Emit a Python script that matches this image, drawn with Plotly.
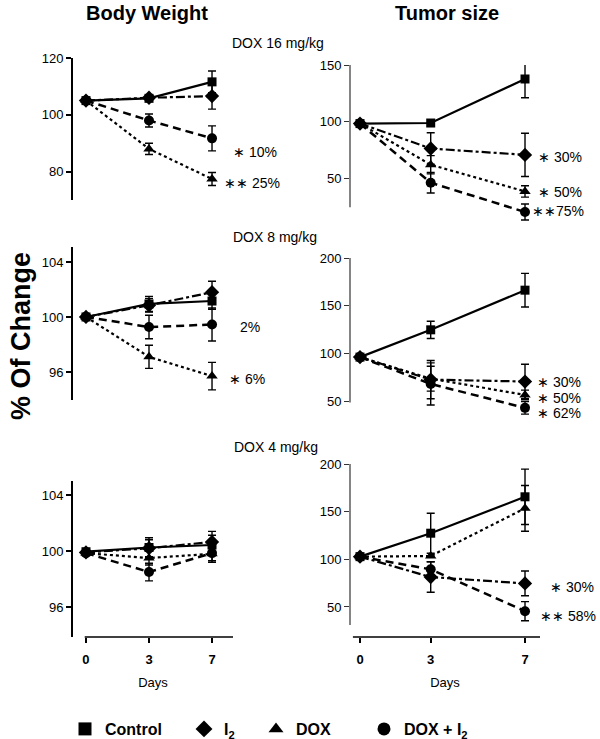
import plotly.graph_objects as go

W, H = 600, 739

# ---------------- data ----------------
days = [0, 3, 7]
day_labels = ["0", "3", "7"]
groups = ["Control", "I2", "DOX", "DOX+I2"]

# Body weight, DOX 16 mg/kg
bw16_control = [105.0, 105.8, 111.6]
bw16_control_err = [0, 0.5, 3.8]
bw16_i2 = [105.0, 106.0, 106.6]
bw16_i2_err = [0, 0, 4.6]
bw16_dox = [105.0, 88.0, 77.4]
bw16_dox_err = [0, 2.0, 2.3]
bw16_doxi2 = [105.0, 98.0, 91.7]
bw16_doxi2_err = [0, 2.3, 4.4]

# Tumor size, DOX 16 mg/kg
ts16_control = [98.5, 99.0, 137.7]
ts16_control_err = [0, 0, 16.5]
ts16_i2 = [98.5, 76.6, 71.0]
ts16_i2_err = [0, 13.8, 19.0]
ts16_dox = [98.5, 62.3, 38.9]
ts16_dox_err = [0, 8.0, 5.0]
ts16_doxi2 = [98.5, 46.5, 20.8]
ts16_doxi2_err = [0, 9.0, 7.0]

# Body weight, DOX 8 mg/kg
bw8_control = [100.0, 100.95, 101.16]
bw8_control_err = [0, 0.55, 0.6]
bw8_i2 = [100.0, 100.85, 101.8]
bw8_i2_err = [0, 0.5, 0.8]
bw8_dox = [100.0, 97.1, 95.7]
bw8_dox_err = [0, 0.84, 1.0]
bw8_doxi2 = [100.0, 99.27, 99.45]
bw8_doxi2_err = [0, 0.85, 1.2]

# Tumor size, DOX 8 mg/kg
ts8_control = [96.5, 125.0, 166.4]
ts8_control_err = [0, 9.0, 17.5]
ts8_i2 = [96.5, 73.0, 71.0]
ts8_i2_err = [0, 20.0, 18.0]
ts8_dox = [96.5, 74.0, 57.0]
ts8_dox_err = [0, 13.0, 5.0]
ts8_doxi2 = [96.5, 68.5, 43.5]
ts8_doxi2_err = [0, 22.0, 6.5]

# Body weight, DOX 4 mg/kg
bw4_control = [99.95, 100.25, 100.43]
bw4_control_err = [0, 0.7, 0.7]
bw4_i2 = [99.9, 100.2, 100.65]
bw4_i2_err = [0, 0.6, 0.75]
bw4_dox = [99.85, 99.5, 99.8]
bw4_dox_err = [0, 0.5, 0.5]
bw4_doxi2 = [99.85, 98.5, 99.85]
bw4_doxi2_err = [0, 0.63, 0.65]

# Tumor size, DOX 4 mg/kg
ts4_control = [102.8, 127.4, 165.6]
ts4_control_err = [0, 21.0, 29.0]
ts4_i2 = [102.8, 81.4, 74.7]
ts4_i2_err = [0, 16.0, 13.0]
ts4_dox = [102.8, 103.5, 153.5]
ts4_dox_err = [0, 0, 24.0]
ts4_doxi2 = [102.8, 89.5, 45.6]
ts4_doxi2_err = [0, 8.0, 10.0]

panel_titles = ["DOX 16 mg/kg", "DOX 8 mg/kg", "DOX 4 mg/kg"]
column_titles = ["Body Weight", "Tumor size"]
bw_ticks = [[80, 100, 120], [96, 100, 104], [96, 100, 104]]
ts_ticks = [[50, 100, 150], [50, 100, 150, 200], [50, 100, 150, 200]]

panel_notes = {
    1: [("∗ 10%", 231, 152), ("∗∗ 25%", 222, 183)],
    2: [("∗ 30%", 536, 157), ("∗ 50%", 536, 192), ("∗∗75%", 530, 211)],
    3: [("2%", 238, 327), ("∗ 6%", 227, 379)],
    4: [("∗ 30%", 535, 382), ("∗ 50%", 535, 398), ("∗ 62%", 535, 413)],
    6: [("∗ 30%", 548, 587), ("∗∗ 58%", 538, 616)],
}

# ---------------- styles ----------------
FONT = "Arial, Liberation Sans, sans-serif"
style = {
    "Control": dict(symbol="square", size=9, dash="solid", lw=2.2),
    "I2": dict(symbol="diamond", size=11, dash="dashdot", lw=2.2),
    "DOX": dict(symbol="triangle-up", size=10, dash="dot", lw=2.2),
    "DOX+I2": dict(symbol="circle", size=10, dash="8px,5px", lw=2.5),
}
legend_names = {
    "Control": "Control",
    "I2": "I<sub>2</sub>",
    "DOX": "DOX",
    "DOX+I2": "DOX + I<sub>2</sub>",
}
legend_x_px = {"Control": 65, "I2": 184, "DOX": 256, "DOX+I2": 364}


def px_x(p):
    return p / W


def px_y(p):
    return 1 - p / H


panels = [
    # (index, left?, ypx top, ypx bottom, yrange, axis-line extent, ticks, series)
    (1, True, 58, 200, [70, 120], None, bw_ticks[0],
     [(bw16_doxi2, bw16_doxi2_err, "DOX+I2"), (bw16_dox, bw16_dox_err, "DOX"),
      (bw16_i2, bw16_i2_err, "I2"), (bw16_control, bw16_control_err, "Control")]),
    (2, False, 65, 222, [12, 150], [25, 150], ts_ticks[0],
     [(ts16_doxi2, ts16_doxi2_err, "DOX+I2"), (ts16_dox, ts16_dox_err, "DOX"),
      (ts16_i2, ts16_i2_err, "I2"), (ts16_control, ts16_control_err, "Control")]),
    (3, True, 247, 400, [93.96, 105.09], None, bw_ticks[1],
     [(bw8_doxi2, bw8_doxi2_err, "DOX+I2"), (bw8_dox, bw8_dox_err, "DOX"),
      (bw8_i2, bw8_i2_err, "I2"), (bw8_control, bw8_control_err, "Control")]),
    (4, False, 258, 416, [35, 200], [49, 200], ts_ticks[1],
     [(ts8_doxi2, ts8_doxi2_err, "DOX+I2"), (ts8_dox, ts8_dox_err, "DOX"),
      (ts8_i2, ts8_i2_err, "I2"), (ts8_control, ts8_control_err, "Control")]),
    (5, True, 481, 637, [93.86, 105], None, bw_ticks[2],
     [(bw4_doxi2, bw4_doxi2_err, "DOX+I2"), (bw4_dox, bw4_dox_err, "DOX"),
      (bw4_i2, bw4_i2_err, "I2"), (bw4_control, bw4_control_err, "Control")]),
    (6, False, 464, 637, [18.5, 200], [31, 200], ts_ticks[2],
     [(ts4_doxi2, ts4_doxi2_err, "DOX+I2"), (ts4_dox, ts4_dox_err, "DOX"),
      (ts4_i2, ts4_i2_err, "I2"), (ts4_control, ts4_control_err, "Control")]),
]

fig = go.Figure()
layout = {}
shapes = []
annotations = []

LEFT_X = [73, 233]
RIGHT_X = [350, 540]
LEFT_XRANGE = [-0.206, 2.333]
RIGHT_XRANGE = [-0.424, 7.636]

for idx, left, ytop, ybot, yrange, line_ext, ticks, series in panels:
    xname = "x" if idx == 1 else f"x{idx}"
    yname = "y" if idx == 1 else f"y{idx}"
    xkey = "xaxis" if idx == 1 else f"xaxis{idx}"
    ykey = "yaxis" if idx == 1 else f"yaxis{idx}"
    bottom = idx in (5, 6)

    for vals, errs, g in series:
        st = style[g]
        xs = day_labels if left else days
        fig.add_trace(go.Scatter(
            x=xs, y=vals, xaxis=xname, yaxis=yname,
            mode="lines+markers", showlegend=False, name=g,
            line=dict(color="black", width=st["lw"], dash=st["dash"]),
            marker=dict(symbol=st["symbol"], size=st["size"], color="black"),
            error_y=dict(type="data", array=errs, color="black",
                         thickness=1.4, width=4, visible=True),
            cliponaxis=False,
        ))

    xd = LEFT_X if left else RIGHT_X
    if left:
        xax = dict(type="category", range=LEFT_XRANGE,
                   categoryorder="array", categoryarray=day_labels)
    else:
        xax = dict(type="linear", range=RIGHT_XRANGE, tickvals=days)
    xax.update(domain=[px_x(xd[0]), px_x(xd[1])], anchor=yname,
               showgrid=False, zeroline=False, showline=False,
               fixedrange=True, automargin=False)
    if bottom:
        xax.update(showticklabels=True, ticks="outside", ticklen=5,
                   tickwidth=1.5, tickcolor="black", ticklabelstandoff=5,
                   tickfont=dict(family=FONT, size=13, color="black",
                                 weight="bold"),
                   title=dict(text="Days", font=dict(family=FONT, size=13,
                                                       color="black"),
                              standoff=12))
    else:
        xax.update(showticklabels=False, ticks="")
    layout[xkey] = xax

    ycol = "black" if left else "#333333"
    ylw = 2 if left else 1.2
    yax = dict(domain=[px_y(ybot), px_y(ytop)], anchor=xname, range=yrange,
               tickvals=ticks, ticks="outside", ticklen=5, tickwidth=ylw,
               tickcolor=ycol, showgrid=False, zeroline=False,
               showline=(line_ext is None), linecolor=ycol, linewidth=ylw,
               tickfont=dict(family=FONT, size=13, color="black"),
               fixedrange=True, automargin=False)
    layout[ykey] = yax

    if line_ext is not None:
        shapes.append(dict(type="line", xref=f"{xname} domain", yref=yname,
                           x0=0, x1=0, y0=line_ext[0], y1=line_ext[1],
                           line=dict(color=ycol, width=ylw)))
    if bottom:
        if left:
            xa, xb = -0.02, LEFT_XRANGE[1]
        else:
            xa, xb = -0.3, RIGHT_XRANGE[1]
        shapes.append(dict(type="line", xref=xname, yref=f"{yname} domain",
                           x0=xa, x1=xb, y0=0, y1=0,
                           line=dict(color="black", width=1.5)))

    for text, lx, cy in panel_notes.get(idx, []):
        annotations.append(dict(text=text, x=px_x(lx), y=px_y(cy),
                                xref="paper", yref="paper", xanchor="left",
                                yanchor="middle", showarrow=False,
                                font=dict(family=FONT, size=14, color="black")))

# Column titles
for t, cx in zip(column_titles, [147, 447]):
    annotations.append(dict(text=f"<b>{t}</b>", x=px_x(cx), y=px_y(13),
                            xref="paper", yref="paper", showarrow=False,
                            xanchor="center", yanchor="middle",
                            font=dict(family=FONT, size=20, color="black")))

# Dose titles
for t, cx, cy in zip(panel_titles, [278, 275, 276], [43, 237, 447]):
    annotations.append(dict(text=t, x=px_x(cx), y=px_y(cy),
                            xref="paper", yref="paper", showarrow=False,
                            xanchor="center", yanchor="middle",
                            font=dict(family=FONT, size=14, color="black")))

# Common y title
annotations.append(dict(text="<b>% Of Change</b>", x=px_x(21), y=px_y(336),
                        xref="paper", yref="paper", showarrow=False,
                        textangle=-90, xanchor="center", yanchor="middle",
                        font=dict(family=FONT, size=27, color="black")))

# Legend entries (symbols only), one legend box per group
legend_layout = {}
for i, g in enumerate(groups):
    st = style[g]
    lname = "legend" if i == 0 else f"legend{i + 1}"
    fig.add_trace(go.Scatter(
        x=[None], y=[None], mode="markers", name=legend_names[g],
        marker=dict(symbol=st["symbol"], size=13, color="black"),
        showlegend=True, legend=lname,
    ))
    legend_layout[lname] = dict(
        orientation="h", x=px_x(legend_x_px[g]), y=px_y(729),
        xanchor="left", yanchor="middle",
        font=dict(family=FONT, size=16, color="black", weight="bold"),
        bgcolor="rgba(0,0,0,0)", itemsizing="trace")

fig.update_layout(
    width=W, height=H,
    margin=dict(l=0, r=0, t=0, b=0, autoexpand=False),
    paper_bgcolor="white", plot_bgcolor="white",
    shapes=shapes, annotations=annotations,
    **legend_layout,
    **layout,
)

fig.write_html("out.html",
               config={"displayModeBar": False},
               post_script="document.body.style.margin='0';"
                           "document.body.style.padding='0';")
